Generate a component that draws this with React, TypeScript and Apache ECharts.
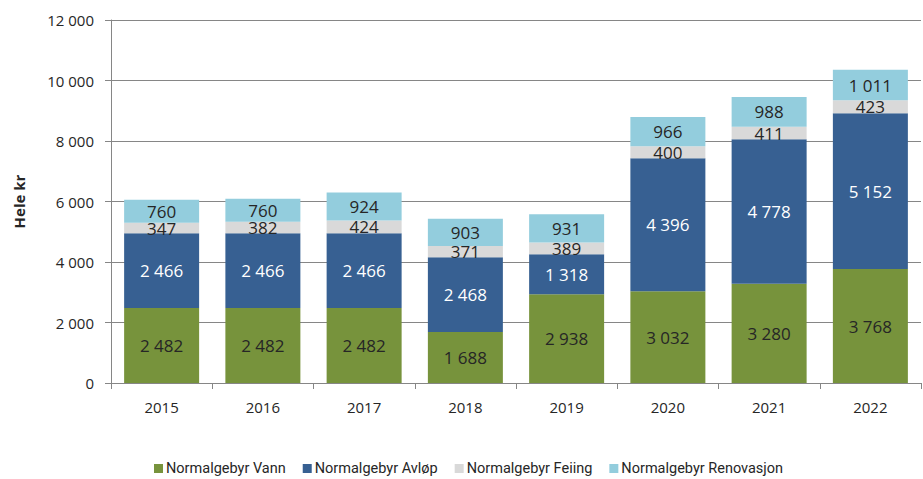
import React, { useEffect, useRef } from "react";
import * as echarts from "echarts";

const categories = ["2015", "2016", "2017", "2018", "2019", "2020", "2021", "2022"];
const vann = [2482, 2482, 2482, 1688, 2938, 3032, 3280, 3768];
const avlop = [2466, 2466, 2466, 2468, 1318, 4396, 4778, 5152];
const feiing = [347, 382, 424, 371, 389, 400, 411, 423];
const renovasjon = [760, 760, 924, 903, 931, 966, 988, 1011];
const seriesNames = ["Normalgebyr Vann", "Normalgebyr Avløp", "Normalgebyr Feiing", "Normalgebyr Renovasjon"];
const colors = ["#77933C", "#376092", "#D9D9D9", "#93CDDD"];
const labelColors = ["#262626", "#FFFFFF", "#262626", "#262626"];

const fmt = (v: number) => String(v).replace(/\B(?=(\d{3})+(?!\d))/g, " ");
const FONT = "Open Sans";

export default function App() {
  const ref = useRef<HTMLDivElement>(null);
  useEffect(() => {
    if (!ref.current) return;
    const chart = echarts.init(ref.current, undefined, { renderer: "svg" });
    const data = [vann, avlop, feiing, renovasjon];
    chart.setOption({
      animation: false,
      textStyle: { fontFamily: FONT },
      grid: { left: 111, right: 179, top: 20, bottom: 96, containLabel: false },
      legend: {
        left: 154,
        top: 461,
        padding: 0,
        itemWidth: 9,
        itemHeight: 9,
        itemGap: 17,
        icon: "rect",
        textStyle: { fontSize: 14.5, color: "#262626", fontFamily: "Roboto", padding: [0, 0, 0, -2] },
        data: seriesNames,
      },
      xAxis: {
        type: "category",
        data: categories,
        axisLine: { lineStyle: { color: "#868686", width: 1 } },
        axisTick: { show: true, length: 6, lineStyle: { color: "#868686" } },
        axisLabel: { fontSize: 15, color: "#262626", margin: 16, fontFamily: FONT },
      },
      yAxis: {
        type: "value",
        min: 0,
        max: 12000,
        interval: 2000,
        name: "Hele kr",
        nameLocation: "middle",
        nameGap: 85,
        nameTextStyle: { fontSize: 15, fontWeight: "bold", color: "#262626", fontFamily: FONT },
        axisLine: { show: true, lineStyle: { color: "#868686", width: 1 } },
        axisTick: { show: true, length: 6, lineStyle: { color: "#868686" } },
        splitLine: { lineStyle: { color: "#868686", width: 1 } },
        axisLabel: { fontSize: 15, color: "#262626", margin: 17, formatter: (v: number) => fmt(v), fontFamily: FONT },
      },
      series: data.map((d, i) => ({
        name: seriesNames[i],
        type: "bar",
        stack: "total",
        barWidth: 75,
        data: d,
        itemStyle: { color: colors[i] },
        label: {
          show: true,
          position: "inside",
          color: labelColors[i],
          fontSize: 17,
          fontFamily: FONT,
          formatter: (p: any) => fmt(p.value),
        },
      })),
    });
    return () => chart.dispose();
  }, []);
  return (
    <div
      ref={ref}
      style={{ position: "fixed", left: 0, top: 0, width: 1100, height: 479, background: "#fff" }}
    />
  );
}
